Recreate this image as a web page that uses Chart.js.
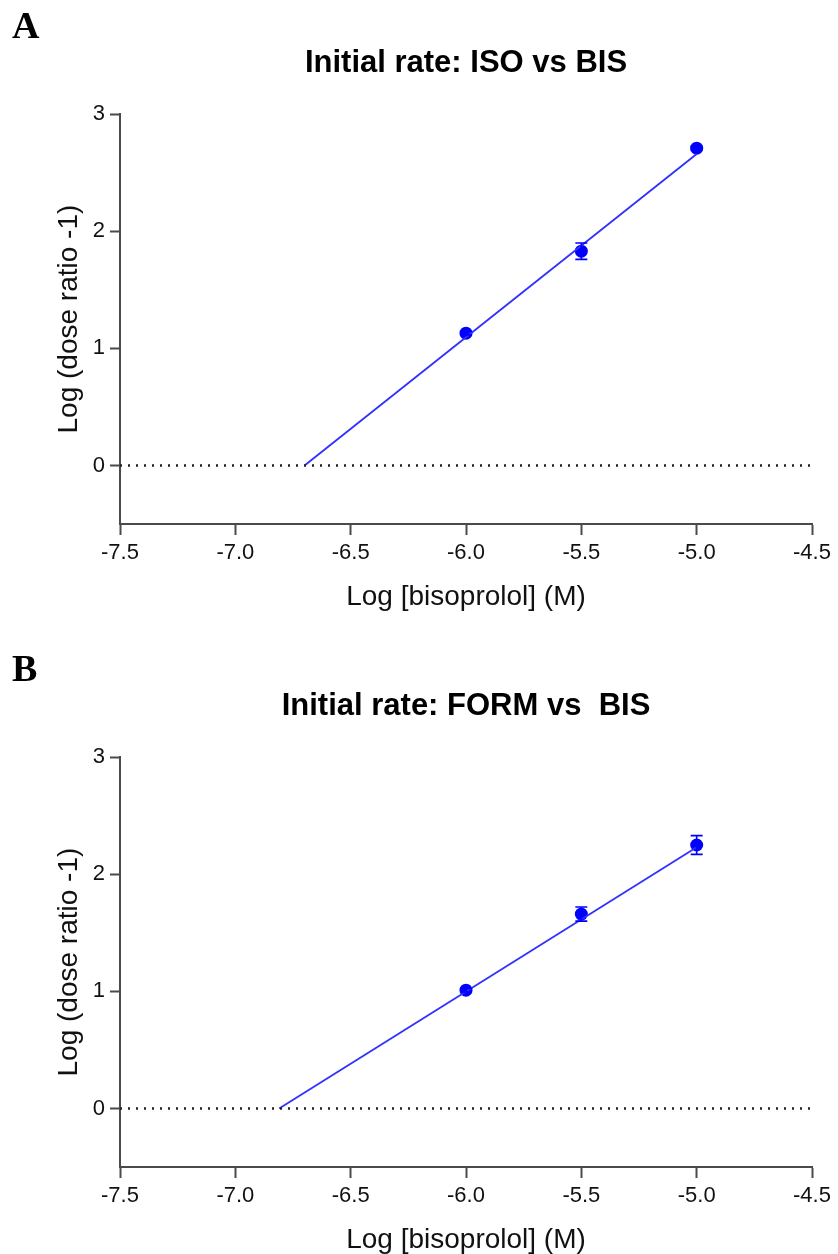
<!DOCTYPE html>
<html>
<head>
<meta charset="utf-8">
<title>Schild plots: bisoprolol</title>
<script src="https://cdn.jsdelivr.net/npm/chart.js@4.4.1/dist/chart.umd.min.js"></script>
<style>
  html, body { margin: 0; padding: 0; background: #fff; overflow: hidden; }
  .panel { position: relative; width: 838px; height: 643px; }
  .panel canvas { position: absolute; left: 0; top: 0; }
  .letter {
    position: absolute; left: 12px; top: 6px; z-index: 2;
    font: bold 38px/38px "Liberation Serif", "Times New Roman", serif; color: #000;
  }
</style>
</head>
<body>
<div class="panel">
  <div class="letter">A</div>
  <canvas id="isoChart" width="838" height="643"></canvas>
</div>
<div class="panel">
  <div class="letter">B</div>
  <canvas id="formChart" width="838" height="643"></canvas>
</div>

<script>
// Schild data: log [bisoprolol] vs log(dose ratio - 1), mean +/- SEM
const logBis = [-6.0, -5.5, -5.0];

const isoMean = [1.13, 1.83, 2.71];
const isoSem = [0.015, 0.07, 0.015];
const isoFitX = [-6.70, -5.0];
const isoFitY = [0, 2.66];

const formMean = [1.01, 1.66, 2.25];
const formSem = [0.015, 0.06, 0.08];
const formFitX = [-6.81, -5.0];
const formFitY = [0, 2.23];

const xRange = [-7.5, -4.5];
const yRange = [-0.5, 3];

const AXIS = '#4a4a4a';
const BLUE = '#0000ff';
Chart.defaults.font.family = '"Liberation Sans", Arial, sans-serif';

// vertical error bars with caps, from dataset.errors
const errorBars = {
    id: 'errorBars',
    afterDatasetsDraw(chart) {
        const ctx = chart.ctx;
        const xs = chart.scales.x, ys = chart.scales.y;
        chart.data.datasets.forEach(ds => {
            if (!ds.errors) return;
            ctx.save();
            ctx.strokeStyle = ds.borderColor;
            ctx.lineWidth = 1.6;
            ds.data.forEach((p, i) => {
                const px = xs.getPixelForValue(p.x);
                const top = ys.getPixelForValue(p.y + ds.errors[i]);
                const bot = ys.getPixelForValue(p.y - ds.errors[i]);
                const cap = Math.min(6, (bot - top) * 2);
                ctx.beginPath();
                ctx.moveTo(px, top); ctx.lineTo(px, bot);
                ctx.moveTo(px - cap, top); ctx.lineTo(px + cap, top);
                ctx.moveTo(px - cap, bot); ctx.lineTo(px + cap, bot);
                ctx.stroke();
            });
            ctx.restore();
        });
    }
};

function pairs(xs, ys) {
    return xs.map((x, i) => ({ x: x, y: ys[i] }));
}

function makeChart(id, title, mean, sem, fitX, fitY) {
    const H = 643;
    return new Chart(document.getElementById(id), {
        type: 'scatter',
        data: {
            datasets: [
                { data: pairs(xRange, [0, 0]), showLine: true, borderColor: '#222', borderWidth: 2.4, borderDash: [2, 6], pointRadius: 0 },
                { data: pairs(fitX, fitY), showLine: true, borderColor: '#3030ff', borderWidth: 1.8, pointRadius: 0 },
                { data: pairs(logBis, mean), errors: sem, pointRadius: 6.5, backgroundColor: BLUE, borderColor: BLUE, borderWidth: 0 }
            ]
        },
        options: {
            responsive: false,
            animation: false,
            layout: { padding: { right: 26 } },
            plugins: {
                legend: { display: false },
                tooltip: { enabled: false },
                title: {
                    display: true, text: title, fullSize: false, color: '#000',
                    font: { size: 31, weight: 'bold' },
                    padding: { top: 45, bottom: 32 }
                }
            },
            scales: {
                x: {
                    type: 'linear', min: xRange[0], max: xRange[1],
                    ticks: { stepSize: 0.5, callback: v => v.toFixed(1), color: '#111', font: { size: 22 }, padding: 5 },
                    grid: { drawOnChartArea: false, tickLength: 11, tickWidth: 2, tickColor: AXIS },
                    border: { color: AXIS, width: 2 },
                    title: { display: true, text: 'Log [bisoprolol] (M)', color: '#111', font: { size: 28 }, padding: { top: 0, bottom: 29 } },
                    afterFit: s => { s.height = H - 524; }
                },
                y: {
                    min: yRange[0], max: yRange[1],
                    ticks: { stepSize: 1, includeBounds: false, color: '#111', font: { size: 22 }, padding: 5 },
                    grid: { drawOnChartArea: false, tickLength: 10, tickWidth: 2, tickColor: AXIS },
                    border: { color: AXIS, width: 2 },
                    title: { display: true, text: 'Log (dose ratio -1)', color: '#111', font: { size: 28 }, padding: { top: 52, bottom: 0 } },
                    afterFit: s => { s.width = 120; }
                }
            }
        },
        plugins: [errorBars]
    });
}

makeChart('isoChart', 'Initial rate: ISO vs BIS', isoMean, isoSem, isoFitX, isoFitY);
makeChart('formChart', 'Initial rate: FORM vs  BIS', formMean, formSem, formFitX, formFitY);
</script>
</body>
</html>
